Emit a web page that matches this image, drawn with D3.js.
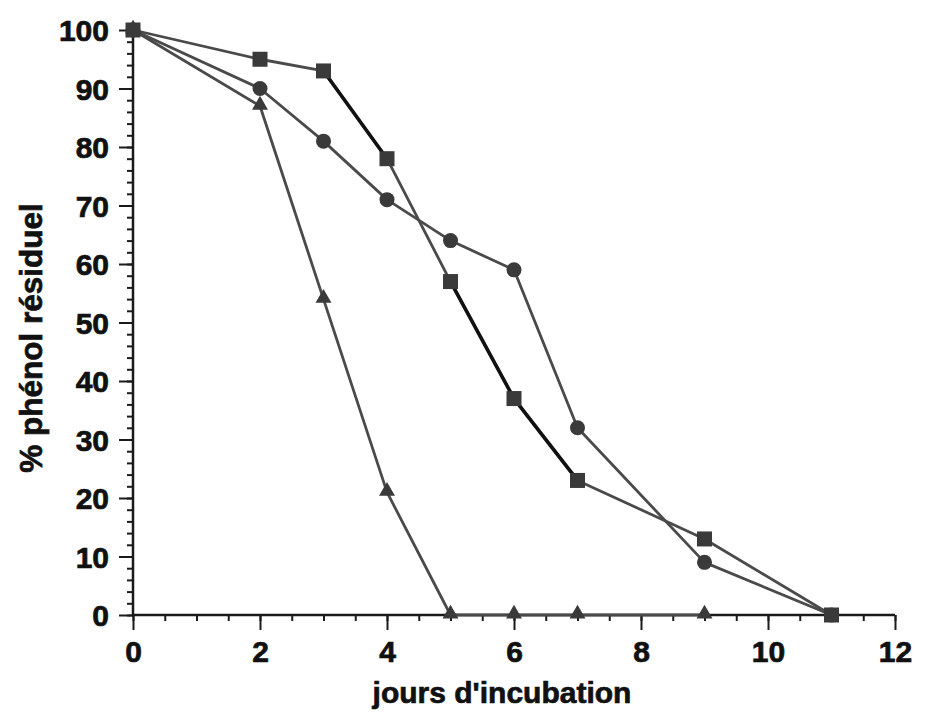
<!DOCTYPE html>
<html>
<head>
<meta charset="utf-8">
<script src="https://cdn.jsdelivr.net/npm/d3@7"></script>
<style>
  body { margin: 0; background: #fff; }
  svg text { font-family: "Liberation Sans", Arial, sans-serif; font-weight: bold; fill: #111; stroke: #111; stroke-width: 0.7; }
</style>
</head>
<body>
<svg id="chart" width="928" height="721"></svg>
<script>
// ---- data ----
const days = [0, 2, 3, 4, 5, 6, 7, 9, 11];
const squareValues = [100, 95, 93, 78, 57, 37, 23, 13, 0];
const circleValues = [100, 90, 81, 71, 64, 59, 32, 9, 0];
const triangleDays = [0, 2, 3, 4, 5, 6, 7, 9];
const triangleValues = [100, 87, 54, 21, 0, 0, 0, 0];
const squareDarkSegments = [2, 4, 5]; // segment i joins point i and i+1
const xTicks = [0, 2, 4, 6, 8, 10, 12];
const yTicks = [0, 10, 20, 30, 40, 50, 60, 70, 80, 90, 100];
const xLabel = "jours d'incubation";
const yLabel = "% phénol résiduel";

// ---- drawing ----
const svg = d3.select("#chart");
const x = d3.scaleLinear().domain([0, 12]).range([133, 895]);
const y = d3.scaleLinear().domain([0, 100]).range([615, 30]);

const axisColor = "#1a1a1a";
const lineGray = "#4a4a4a";
const markFill = "#3a3a3a";

// y axis
const yAxisG = svg.append("g").attr("transform", `translate(${x(0)},0)`);
yAxisG.call(d3.axisLeft(y).tickValues(d3.range(0, 101, 2)).tickSize(6).tickFormat(""))
  .call(g => g.select(".domain").remove());
yAxisG.selectAll(".tick line").attr("stroke", axisColor).attr("stroke-width", 2);
const yMajor = svg.append("g").attr("transform", `translate(${x(0)},0)`);
yMajor.call(d3.axisLeft(y).tickValues(yTicks).tickSize(14).tickPadding(10))
  .call(g => g.select(".domain").remove());
yMajor.selectAll(".tick line").attr("stroke", axisColor).attr("stroke-width", 2);
yMajor.selectAll(".tick text").attr("font-size", 30).attr("dy", "0.36em").attr("fill", "#111");

// x axis
const xAxisG = svg.append("g").attr("transform", `translate(0,${y(0)})`);
xAxisG.call(d3.axisBottom(x).tickValues(d3.range(0, 12.01, 0.5)).tickSize(6).tickFormat(""))
  .call(g => g.select(".domain").remove());
xAxisG.selectAll(".tick line").attr("stroke", axisColor).attr("stroke-width", 2);
const xMajor = svg.append("g").attr("transform", `translate(0,${y(0)})`);
xMajor.call(d3.axisBottom(x).tickValues(xTicks).tickSize(15).tickPadding(11))
  .call(g => g.select(".domain").remove());
xMajor.selectAll(".tick line").attr("stroke", axisColor).attr("stroke-width", 2);
xMajor.selectAll(".tick text").attr("font-size", 30).attr("dy", "0.71em").attr("fill", "#111");

// axis lines
svg.append("line").attr("x1", x(0)).attr("x2", x(0)).attr("y1", y(100)).attr("y2", y(0))
  .attr("stroke", axisColor).attr("stroke-width", 2.5);
svg.append("line").attr("x1", x(0)).attr("x2", x(12)).attr("y1", y(0)).attr("y2", y(0))
  .attr("stroke", axisColor).attr("stroke-width", 2.5);

// axis titles
svg.append("text").attr("x", 502).attr("y", 703).attr("text-anchor", "middle")
  .attr("font-size", 30).text(xLabel);
svg.append("text").attr("transform", `translate(42,338) rotate(-90)`)
  .attr("text-anchor", "middle").attr("font-size", 31.5).text(yLabel);

// series
const line = d3.line().x(d => x(d[0])).y(d => y(d[1]));
const sq = days.map((d, i) => [d, squareValues[i]]);
const ci = days.map((d, i) => [d, circleValues[i]]);
const tr = triangleDays.map((d, i) => [d, triangleValues[i]]);

[tr, ci, sq].forEach(s => {
  svg.append("path").datum(s).attr("d", line).attr("fill", "none")
    .attr("stroke", lineGray).attr("stroke-width", 2.8).attr("stroke-linejoin", "round");
});
squareDarkSegments.forEach(i => {
  svg.append("path").datum([sq[i], sq[i + 1]]).attr("d", line).attr("fill", "none")
    .attr("stroke", "#111").attr("stroke-width", 3.6);
});

// markers
svg.append("g").selectAll("rect").data(sq).join("rect")
  .attr("x", d => x(d[0]) - 7.5).attr("y", d => y(d[1]) - 7.5)
  .attr("width", 15).attr("height", 15).attr("fill", markFill);
svg.append("g").selectAll("circle").data(ci).join("circle")
  .attr("cx", d => x(d[0])).attr("cy", d => y(d[1])).attr("r", 7.5).attr("fill", markFill);
const triSym = d3.symbol().type(d3.symbolTriangle).size(110);
svg.append("g").selectAll("path").data(tr).join("path")
  .attr("transform", d => `translate(${x(d[0])},${y(d[1]) - 1})`)
  .attr("d", triSym).attr("fill", markFill);
</script>
</body>
</html>
